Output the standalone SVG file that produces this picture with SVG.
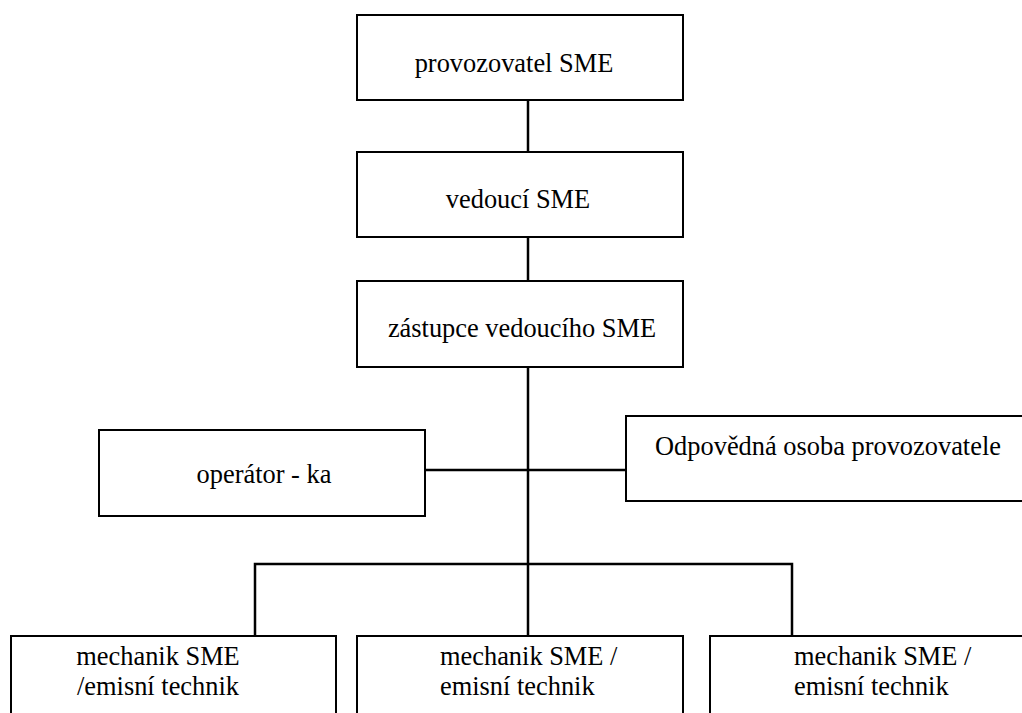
<svg xmlns="http://www.w3.org/2000/svg" width="1022" height="713" viewBox="0 0 1022 713">
<style>
.box{fill:#fff;stroke:#000;stroke-width:2}
.ln{stroke:#000;stroke-width:2.5;fill:none}
.t{font-family:'Times New Roman','Liberation Serif',Tinos,'DejaVu Serif',serif;font-size:26.4px;fill:#000}
.c{text-anchor:middle}
</style>
<rect width="1022" height="713" fill="#fff"/>
<g id="connectors">
<line class="ln" x1="528" y1="100" x2="528" y2="152"/>
<line class="ln" x1="528" y1="237" x2="528" y2="281"/>
<line class="ln" x1="528" y1="367" x2="528" y2="636"/>
<line class="ln" x1="425" y1="470" x2="626" y2="470"/>
<polyline class="ln" points="255,636 255,564 792,564 792,636"/>
</g>
<g class="t">
<g id="n1"><rect class="box" x="357" y="15" width="326" height="85"/><text class="c" x="514" y="72">provozovatel SME</text></g>
<g id="n2"><rect class="box" x="357" y="152" width="326" height="85"/><text class="c" x="518" y="208">vedoucí SME</text></g>
<g id="n3"><rect class="box" x="357" y="281" width="326" height="86"/><text class="c" x="522" y="337">zástupce vedoucího SME</text></g>
<g id="n4"><rect class="box" x="99" y="430" width="326" height="86"/><text class="c" x="264" y="483">operátor - ka</text></g>
<g id="n5"><rect class="box" x="626" y="416" width="410" height="85"/><text class="c" x="828" y="455">Odpovědná osoba provozovatele</text></g>
<g id="n6"><rect class="box" x="11" y="636" width="325" height="90"/><text class="c" x="158" y="665">mechanik SME</text><text class="c" x="158" y="695">/emisní technik</text></g>
<g id="n7"><rect class="box" x="357" y="636" width="326" height="90"/><text x="440" y="665">mechanik SME /</text><text x="440" y="695">emisní technik</text></g>
<g id="n8"><rect class="box" x="710" y="636" width="330" height="90"/><text x="794" y="665">mechanik SME /</text><text x="794" y="695">emisní technik</text></g>
</g>
</svg>
